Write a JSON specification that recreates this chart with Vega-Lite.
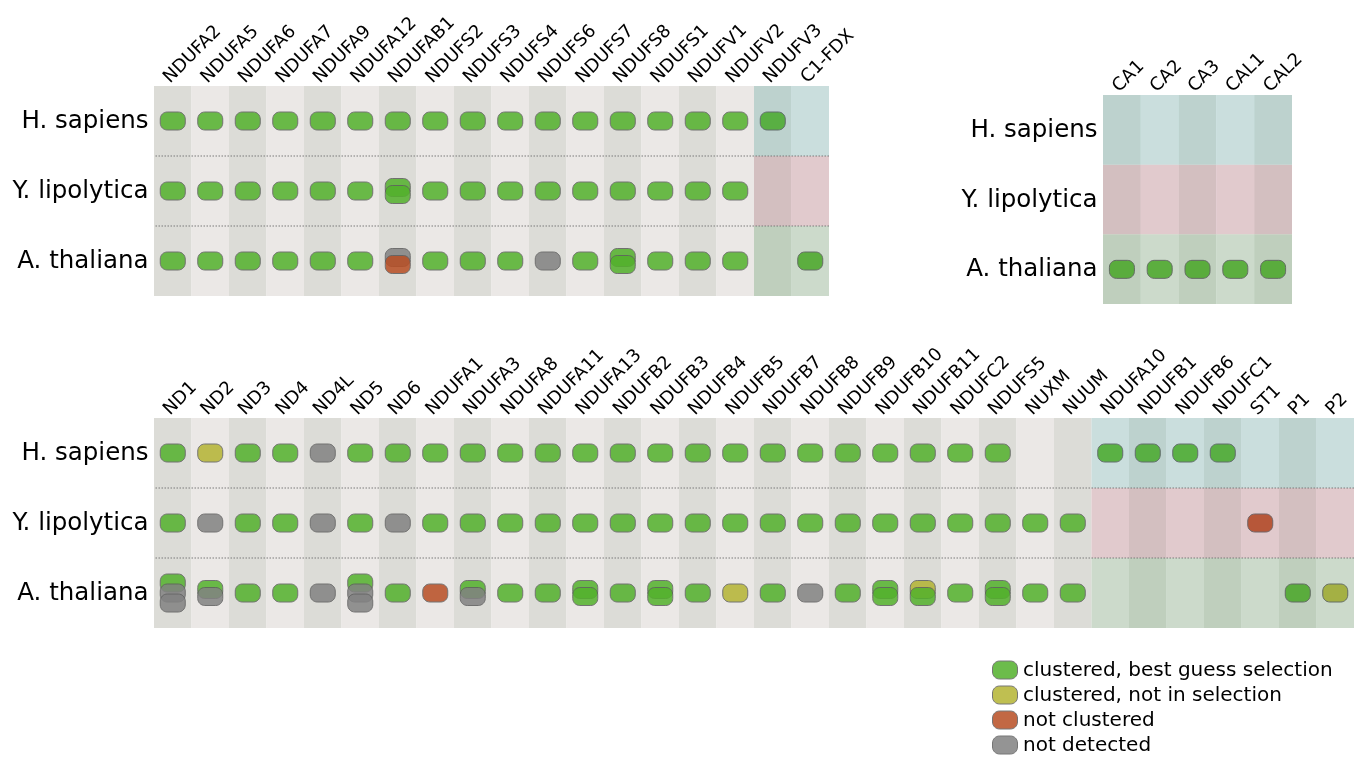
{
  "$schema": "https://vega.github.io/schema/vega-lite/v6.json",
  "padding": {"left": 12, "top": 12, "right": 8, "bottom": 4},
  "background": "white",
  "datasets": {
    "species": [
      {"species": "H. sapiens"}, {"species": "Y. lipolytica"}, {"species": "A. thaliana"}
    ],
    "genes": [
      {"gene": "NDUFA2", "panel": "top", "set": "shared"},
      {"gene": "NDUFA5", "panel": "top", "set": "shared"},
      {"gene": "NDUFA6", "panel": "top", "set": "shared"},
      {"gene": "NDUFA7", "panel": "top", "set": "shared"},
      {"gene": "NDUFA9", "panel": "top", "set": "shared"},
      {"gene": "NDUFA12", "panel": "top", "set": "shared"},
      {"gene": "NDUFAB1", "panel": "top", "set": "shared"},
      {"gene": "NDUFS2", "panel": "top", "set": "shared"},
      {"gene": "NDUFS3", "panel": "top", "set": "shared"},
      {"gene": "NDUFS4", "panel": "top", "set": "shared"},
      {"gene": "NDUFS6", "panel": "top", "set": "shared"},
      {"gene": "NDUFS7", "panel": "top", "set": "shared"},
      {"gene": "NDUFS8", "panel": "top", "set": "shared"},
      {"gene": "NDUFS1", "panel": "top", "set": "shared"},
      {"gene": "NDUFV1", "panel": "top", "set": "shared"},
      {"gene": "NDUFV2", "panel": "top", "set": "shared"},
      {"gene": "NDUFV3", "panel": "top", "set": "specific"},
      {"gene": "C1-FDX", "panel": "top", "set": "specific"},
      {"gene": "CA1", "panel": "ca", "set": "specific"},
      {"gene": "CA2", "panel": "ca", "set": "specific"},
      {"gene": "CA3", "panel": "ca", "set": "specific"},
      {"gene": "CAL1", "panel": "ca", "set": "specific"},
      {"gene": "CAL2", "panel": "ca", "set": "specific"},
      {"gene": "ND1", "panel": "bottom", "set": "shared"},
      {"gene": "ND2", "panel": "bottom", "set": "shared"},
      {"gene": "ND3", "panel": "bottom", "set": "shared"},
      {"gene": "ND4", "panel": "bottom", "set": "shared"},
      {"gene": "ND4L", "panel": "bottom", "set": "shared"},
      {"gene": "ND5", "panel": "bottom", "set": "shared"},
      {"gene": "ND6", "panel": "bottom", "set": "shared"},
      {"gene": "NDUFA1", "panel": "bottom", "set": "shared"},
      {"gene": "NDUFA3", "panel": "bottom", "set": "shared"},
      {"gene": "NDUFA8", "panel": "bottom", "set": "shared"},
      {"gene": "NDUFA11", "panel": "bottom", "set": "shared"},
      {"gene": "NDUFA13", "panel": "bottom", "set": "shared"},
      {"gene": "NDUFB2", "panel": "bottom", "set": "shared"},
      {"gene": "NDUFB3", "panel": "bottom", "set": "shared"},
      {"gene": "NDUFB4", "panel": "bottom", "set": "shared"},
      {"gene": "NDUFB5", "panel": "bottom", "set": "shared"},
      {"gene": "NDUFB7", "panel": "bottom", "set": "shared"},
      {"gene": "NDUFB8", "panel": "bottom", "set": "shared"},
      {"gene": "NDUFB9", "panel": "bottom", "set": "shared"},
      {"gene": "NDUFB10", "panel": "bottom", "set": "shared"},
      {"gene": "NDUFB11", "panel": "bottom", "set": "shared"},
      {"gene": "NDUFC2", "panel": "bottom", "set": "shared"},
      {"gene": "NDUFS5", "panel": "bottom", "set": "shared"},
      {"gene": "NUXM", "panel": "bottom", "set": "shared"},
      {"gene": "NUUM", "panel": "bottom", "set": "shared"},
      {"gene": "NDUFA10", "panel": "bottom", "set": "specific"},
      {"gene": "NDUFB1", "panel": "bottom", "set": "specific"},
      {"gene": "NDUFB6", "panel": "bottom", "set": "specific"},
      {"gene": "NDUFC1", "panel": "bottom", "set": "specific"},
      {"gene": "ST1", "panel": "bottom", "set": "specific"},
      {"gene": "P1", "panel": "bottom", "set": "specific"},
      {"gene": "P2", "panel": "bottom", "set": "specific"}
    ],
    "hitsTop": [
      {"gene": "NDUFA2", "species": "H. sapiens", "status": "best"},
      {"gene": "NDUFA5", "species": "H. sapiens", "status": "best"},
      {"gene": "NDUFA6", "species": "H. sapiens", "status": "best"},
      {"gene": "NDUFA7", "species": "H. sapiens", "status": "best"},
      {"gene": "NDUFA9", "species": "H. sapiens", "status": "best"},
      {"gene": "NDUFA12", "species": "H. sapiens", "status": "best"},
      {"gene": "NDUFAB1", "species": "H. sapiens", "status": "best"},
      {"gene": "NDUFS2", "species": "H. sapiens", "status": "best"},
      {"gene": "NDUFS3", "species": "H. sapiens", "status": "best"},
      {"gene": "NDUFS4", "species": "H. sapiens", "status": "best"},
      {"gene": "NDUFS6", "species": "H. sapiens", "status": "best"},
      {"gene": "NDUFS7", "species": "H. sapiens", "status": "best"},
      {"gene": "NDUFS8", "species": "H. sapiens", "status": "best"},
      {"gene": "NDUFS1", "species": "H. sapiens", "status": "best"},
      {"gene": "NDUFV1", "species": "H. sapiens", "status": "best"},
      {"gene": "NDUFV2", "species": "H. sapiens", "status": "best"},
      {"gene": "NDUFV3", "species": "H. sapiens", "status": "best"},
      {"gene": "NDUFA2", "species": "Y. lipolytica", "status": "best"},
      {"gene": "NDUFA5", "species": "Y. lipolytica", "status": "best"},
      {"gene": "NDUFA6", "species": "Y. lipolytica", "status": "best"},
      {"gene": "NDUFA7", "species": "Y. lipolytica", "status": "best"},
      {"gene": "NDUFA9", "species": "Y. lipolytica", "status": "best"},
      {"gene": "NDUFA12", "species": "Y. lipolytica", "status": "best"},
      {"gene": "NDUFAB1", "species": "Y. lipolytica", "status": "best"},
      {"gene": "NDUFAB1", "species": "Y. lipolytica", "status": "best"},
      {"gene": "NDUFS2", "species": "Y. lipolytica", "status": "best"},
      {"gene": "NDUFS3", "species": "Y. lipolytica", "status": "best"},
      {"gene": "NDUFS4", "species": "Y. lipolytica", "status": "best"},
      {"gene": "NDUFS6", "species": "Y. lipolytica", "status": "best"},
      {"gene": "NDUFS7", "species": "Y. lipolytica", "status": "best"},
      {"gene": "NDUFS8", "species": "Y. lipolytica", "status": "best"},
      {"gene": "NDUFS1", "species": "Y. lipolytica", "status": "best"},
      {"gene": "NDUFV1", "species": "Y. lipolytica", "status": "best"},
      {"gene": "NDUFV2", "species": "Y. lipolytica", "status": "best"},
      {"gene": "NDUFA2", "species": "A. thaliana", "status": "best"},
      {"gene": "NDUFA5", "species": "A. thaliana", "status": "best"},
      {"gene": "NDUFA6", "species": "A. thaliana", "status": "best"},
      {"gene": "NDUFA7", "species": "A. thaliana", "status": "best"},
      {"gene": "NDUFA9", "species": "A. thaliana", "status": "best"},
      {"gene": "NDUFA12", "species": "A. thaliana", "status": "best"},
      {"gene": "NDUFAB1", "species": "A. thaliana", "status": "missing"},
      {"gene": "NDUFAB1", "species": "A. thaliana", "status": "unclustered"},
      {"gene": "NDUFS2", "species": "A. thaliana", "status": "best"},
      {"gene": "NDUFS3", "species": "A. thaliana", "status": "best"},
      {"gene": "NDUFS4", "species": "A. thaliana", "status": "best"},
      {"gene": "NDUFS6", "species": "A. thaliana", "status": "missing"},
      {"gene": "NDUFS7", "species": "A. thaliana", "status": "best"},
      {"gene": "NDUFS8", "species": "A. thaliana", "status": "best"},
      {"gene": "NDUFS8", "species": "A. thaliana", "status": "best"},
      {"gene": "NDUFS1", "species": "A. thaliana", "status": "best"},
      {"gene": "NDUFV1", "species": "A. thaliana", "status": "best"},
      {"gene": "NDUFV2", "species": "A. thaliana", "status": "best"},
      {"gene": "C1-FDX", "species": "A. thaliana", "status": "best"}
    ],
    "hitsCa": [
      {"gene": "CA1", "species": "A. thaliana", "status": "best"},
      {"gene": "CA2", "species": "A. thaliana", "status": "best"},
      {"gene": "CA3", "species": "A. thaliana", "status": "best"},
      {"gene": "CAL1", "species": "A. thaliana", "status": "best"},
      {"gene": "CAL2", "species": "A. thaliana", "status": "best"}
    ],
    "hitsBottom": [
      {"gene": "ND1", "species": "H. sapiens", "status": "best"},
      {"gene": "ND2", "species": "H. sapiens", "status": "alt"},
      {"gene": "ND3", "species": "H. sapiens", "status": "best"},
      {"gene": "ND4", "species": "H. sapiens", "status": "best"},
      {"gene": "ND4L", "species": "H. sapiens", "status": "missing"},
      {"gene": "ND5", "species": "H. sapiens", "status": "best"},
      {"gene": "ND6", "species": "H. sapiens", "status": "best"},
      {"gene": "NDUFA1", "species": "H. sapiens", "status": "best"},
      {"gene": "NDUFA3", "species": "H. sapiens", "status": "best"},
      {"gene": "NDUFA8", "species": "H. sapiens", "status": "best"},
      {"gene": "NDUFA11", "species": "H. sapiens", "status": "best"},
      {"gene": "NDUFA13", "species": "H. sapiens", "status": "best"},
      {"gene": "NDUFB2", "species": "H. sapiens", "status": "best"},
      {"gene": "NDUFB3", "species": "H. sapiens", "status": "best"},
      {"gene": "NDUFB4", "species": "H. sapiens", "status": "best"},
      {"gene": "NDUFB5", "species": "H. sapiens", "status": "best"},
      {"gene": "NDUFB7", "species": "H. sapiens", "status": "best"},
      {"gene": "NDUFB8", "species": "H. sapiens", "status": "best"},
      {"gene": "NDUFB9", "species": "H. sapiens", "status": "best"},
      {"gene": "NDUFB10", "species": "H. sapiens", "status": "best"},
      {"gene": "NDUFB11", "species": "H. sapiens", "status": "best"},
      {"gene": "NDUFC2", "species": "H. sapiens", "status": "best"},
      {"gene": "NDUFS5", "species": "H. sapiens", "status": "best"},
      {"gene": "NDUFA10", "species": "H. sapiens", "status": "best"},
      {"gene": "NDUFB1", "species": "H. sapiens", "status": "best"},
      {"gene": "NDUFB6", "species": "H. sapiens", "status": "best"},
      {"gene": "NDUFC1", "species": "H. sapiens", "status": "best"},
      {"gene": "ND1", "species": "Y. lipolytica", "status": "best"},
      {"gene": "ND2", "species": "Y. lipolytica", "status": "missing"},
      {"gene": "ND3", "species": "Y. lipolytica", "status": "best"},
      {"gene": "ND4", "species": "Y. lipolytica", "status": "best"},
      {"gene": "ND4L", "species": "Y. lipolytica", "status": "missing"},
      {"gene": "ND5", "species": "Y. lipolytica", "status": "best"},
      {"gene": "ND6", "species": "Y. lipolytica", "status": "missing"},
      {"gene": "NDUFA1", "species": "Y. lipolytica", "status": "best"},
      {"gene": "NDUFA3", "species": "Y. lipolytica", "status": "best"},
      {"gene": "NDUFA8", "species": "Y. lipolytica", "status": "best"},
      {"gene": "NDUFA11", "species": "Y. lipolytica", "status": "best"},
      {"gene": "NDUFA13", "species": "Y. lipolytica", "status": "best"},
      {"gene": "NDUFB2", "species": "Y. lipolytica", "status": "best"},
      {"gene": "NDUFB3", "species": "Y. lipolytica", "status": "best"},
      {"gene": "NDUFB4", "species": "Y. lipolytica", "status": "best"},
      {"gene": "NDUFB5", "species": "Y. lipolytica", "status": "best"},
      {"gene": "NDUFB7", "species": "Y. lipolytica", "status": "best"},
      {"gene": "NDUFB8", "species": "Y. lipolytica", "status": "best"},
      {"gene": "NDUFB9", "species": "Y. lipolytica", "status": "best"},
      {"gene": "NDUFB10", "species": "Y. lipolytica", "status": "best"},
      {"gene": "NDUFB11", "species": "Y. lipolytica", "status": "best"},
      {"gene": "NDUFC2", "species": "Y. lipolytica", "status": "best"},
      {"gene": "NDUFS5", "species": "Y. lipolytica", "status": "best"},
      {"gene": "NUXM", "species": "Y. lipolytica", "status": "best"},
      {"gene": "NUUM", "species": "Y. lipolytica", "status": "best"},
      {"gene": "ST1", "species": "Y. lipolytica", "status": "unclustered"},
      {"gene": "ND1", "species": "A. thaliana", "status": "best"},
      {"gene": "ND1", "species": "A. thaliana", "status": "missing"},
      {"gene": "ND1", "species": "A. thaliana", "status": "missing"},
      {"gene": "ND2", "species": "A. thaliana", "status": "best"},
      {"gene": "ND2", "species": "A. thaliana", "status": "missing"},
      {"gene": "ND3", "species": "A. thaliana", "status": "best"},
      {"gene": "ND4", "species": "A. thaliana", "status": "best"},
      {"gene": "ND4L", "species": "A. thaliana", "status": "missing"},
      {"gene": "ND5", "species": "A. thaliana", "status": "best"},
      {"gene": "ND5", "species": "A. thaliana", "status": "missing"},
      {"gene": "ND5", "species": "A. thaliana", "status": "missing"},
      {"gene": "ND6", "species": "A. thaliana", "status": "best"},
      {"gene": "NDUFA1", "species": "A. thaliana", "status": "unclustered"},
      {"gene": "NDUFA3", "species": "A. thaliana", "status": "best"},
      {"gene": "NDUFA3", "species": "A. thaliana", "status": "missing"},
      {"gene": "NDUFA8", "species": "A. thaliana", "status": "best"},
      {"gene": "NDUFA11", "species": "A. thaliana", "status": "best"},
      {"gene": "NDUFA13", "species": "A. thaliana", "status": "best"},
      {"gene": "NDUFA13", "species": "A. thaliana", "status": "best"},
      {"gene": "NDUFB2", "species": "A. thaliana", "status": "best"},
      {"gene": "NDUFB3", "species": "A. thaliana", "status": "best"},
      {"gene": "NDUFB3", "species": "A. thaliana", "status": "best"},
      {"gene": "NDUFB4", "species": "A. thaliana", "status": "best"},
      {"gene": "NDUFB5", "species": "A. thaliana", "status": "alt"},
      {"gene": "NDUFB7", "species": "A. thaliana", "status": "best"},
      {"gene": "NDUFB8", "species": "A. thaliana", "status": "missing"},
      {"gene": "NDUFB9", "species": "A. thaliana", "status": "best"},
      {"gene": "NDUFB10", "species": "A. thaliana", "status": "best"},
      {"gene": "NDUFB10", "species": "A. thaliana", "status": "best"},
      {"gene": "NDUFB11", "species": "A. thaliana", "status": "alt"},
      {"gene": "NDUFB11", "species": "A. thaliana", "status": "best"},
      {"gene": "NDUFC2", "species": "A. thaliana", "status": "best"},
      {"gene": "NDUFS5", "species": "A. thaliana", "status": "best"},
      {"gene": "NDUFS5", "species": "A. thaliana", "status": "best"},
      {"gene": "NUXM", "species": "A. thaliana", "status": "best"},
      {"gene": "NUUM", "species": "A. thaliana", "status": "best"},
      {"gene": "P1", "species": "A. thaliana", "status": "best"},
      {"gene": "P2", "species": "A. thaliana", "status": "alt"}
    ]
  },
  "vconcat": [
    {
      "hconcat": [
        {
          "width": 675,
          "height": 210,
          "resolve": {"scale": {"yOffset": "independent"}},
          "layer": [
            {
              "data": {"name": "genes"},
              "transform": [
                {"filter": "datum.panel === 'top'"},
                {"window": [{"op": "row_number", "as": "col"}]},
                {"calculate": "['H. sapiens', 'Y. lipolytica', 'A. thaliana']", "as": "species"},
                {"flatten": ["species"]},
                {"calculate": "datum.col % 2 === 1 ? 'dark' : 'light'", "as": "tone"}
              ],
              "mark": "rect",
              "encoding": {
                "x": {"field": "gene", "type": "nominal", "sort": null, "title": null, "axis": {"orient": "top"}},
                "y": {"field": "species", "type": "nominal", "title": null, "scale": {"domain": ["H. sapiens", "Y. lipolytica", "A. thaliana"]}},
                "fill": {"field": "tone", "type": "nominal", "legend": null,
                  "scale": {"domain": ["dark", "light", "H. sapiens", "Y. lipolytica", "A. thaliana"], "range": ["#dcdcd7", "#ebe8e6", "#dbf4f5", "#f5dee4", "#def0e1"]}}
              }
            },
            {
              "data": {"name": "hitsTop"},
              "transform": [
                {"window": [{"op": "row_number", "as": "k"}], "groupby": ["gene", "species"]},
                {"joinaggregate": [{"op": "count", "as": "n"}], "groupby": ["gene", "species"]},
                {"calculate": "(datum.k - (datum.n + 1) / 2) * (datum.n > 2 ? 10 : 7)", "as": "shift"}
              ],
              "mark": {"type": "point", "filled": true, "size": 625, "opacity": 0.85, "stroke": "#5e5e5e", "strokeWidth": 1,
                "shape": "M-0.44,-0.72L0.44,-0.72C0.749,-0.72,1,-0.469,1,-0.16L1,0.16C1,0.469,0.749,0.72,0.44,0.72L-0.44,0.72C-0.749,0.72,-1,0.469,-1,0.16L-1,-0.16C-1,-0.469,-0.749,-0.72,-0.44,-0.72Z"},
              "encoding": {
                "x": {"field": "gene", "type": "nominal", "sort": null, "title": null},
                "y": {"field": "species", "type": "nominal", "title": null},
                "yOffset": {"field": "shift", "type": "quantitative", "scale": {"domain": [-10, 10], "range": [25, 45]}},
                "color": {"field": "status", "type": "nominal",
                  "scale": {"domain": ["best", "alt", "unclustered", "missing"], "range": ["#53b12c", "#b4b433", "#b84e24", "#828282"]},
                  "legend": {
                    "orient": "none", "legendX": 838, "legendY": 571, "title": null,
                    "labelFont": "DejaVu Sans", "labelFontSize": 20, "labelColor": "#000", "labelOffset": 5, "labelLimit": 400,
                    "symbolType": "M-0.44,-0.72L0.44,-0.72C0.749,-0.72,1,-0.469,1,-0.16L1,0.16C1,0.469,0.749,0.72,0.44,0.72L-0.44,0.72C-0.749,0.72,-1,0.469,-1,0.16L-1,-0.16C-1,-0.469,-0.749,-0.72,-0.44,-0.72Z",
                    "symbolSize": 625, "symbolStrokeColor": "#5e5e5e", "symbolStrokeWidth": 1, "symbolOpacity": 0.85, "rowPadding": 1,
                    "labelExpr": "{'best': 'clustered, best guess selection', 'alt': 'clustered, not in selection', 'unclustered': 'not clustered', 'missing': 'not detected'}[datum.label]"
                  }
                }
              }
            },
            {
              "data": {"name": "genes"},
              "transform": [
                {"filter": "datum.panel === 'top' && datum.set === 'specific'"},
                {"calculate": "['H. sapiens', 'Y. lipolytica', 'A. thaliana']", "as": "species"},
                {"flatten": ["species"]}
              ],
              "mark": {"type": "rect", "blend": "multiply"},
              "encoding": {
                "x": {"field": "gene", "type": "nominal", "sort": null, "title": null},
                "y": {"field": "species", "type": "nominal", "title": null},
                "fill": {"field": "species", "type": "nominal", "legend": null,
                  "scale": {"domain": ["dark", "light", "H. sapiens", "Y. lipolytica", "A. thaliana"], "range": ["#dcdcd7", "#ebe8e6", "#dbf4f5", "#f5dee4", "#def0e1"]}}
              }
            },
            {
              "data": {"name": "species"},
              "transform": [{"filter": "datum.species !== 'H. sapiens'"}],
              "mark": {"type": "rule", "stroke": "#7a7a7a", "strokeWidth": 1, "strokeDash": [1.5, 1.5]},
              "encoding": {
                "y": {"field": "species", "type": "nominal", "bandPosition": 0, "title": null}
              }
            }
          ]
        },
        {
          "width": 189,
          "height": 218,
          "resolve": {"scale": {"yOffset": "independent"}},
          "layer": [
            {
              "data": {"name": "genes"},
              "transform": [
                {"filter": "datum.panel === 'ca'"},
                {"window": [{"op": "row_number", "as": "col"}]},
                {"calculate": "['H. sapiens', 'Y. lipolytica', 'A. thaliana']", "as": "species"},
                {"flatten": ["species"]},
                {"calculate": "datum.col % 2 === 1 ? 'dark' : 'light'", "as": "tone"}
              ],
              "mark": "rect",
              "encoding": {
                "x": {"field": "gene", "type": "nominal", "sort": null, "title": null, "axis": {"orient": "top", "offset": -9}},
                "y": {"field": "species", "type": "nominal", "title": null, "scale": {"domain": ["H. sapiens", "Y. lipolytica", "A. thaliana"], "range": [9, 218]}},
                "fill": {"field": "tone", "type": "nominal", "legend": null,
                  "scale": {"domain": ["dark", "light", "H. sapiens", "Y. lipolytica", "A. thaliana"], "range": ["#dcdcd7", "#ebe8e6", "#dbf4f5", "#f5dee4", "#def0e1"]}}
              }
            },
            {
              "data": {"name": "hitsCa"},
              "transform": [
                {"window": [{"op": "row_number", "as": "k"}], "groupby": ["gene", "species"]},
                {"joinaggregate": [{"op": "count", "as": "n"}], "groupby": ["gene", "species"]},
                {"calculate": "(datum.k - (datum.n + 1) / 2) * (datum.n > 2 ? 10 : 7)", "as": "shift"}
              ],
              "mark": {"type": "point", "filled": true, "size": 625, "opacity": 0.85, "stroke": "#5e5e5e", "strokeWidth": 1,
                "shape": "M-0.44,-0.72L0.44,-0.72C0.749,-0.72,1,-0.469,1,-0.16L1,0.16C1,0.469,0.749,0.72,0.44,0.72L-0.44,0.72C-0.749,0.72,-1,0.469,-1,0.16L-1,-0.16C-1,-0.469,-0.749,-0.72,-0.44,-0.72Z"},
              "encoding": {
                "x": {"field": "gene", "type": "nominal", "sort": null, "title": null},
                "y": {"field": "species", "type": "nominal", "title": null},
                "yOffset": {"field": "shift", "type": "quantitative", "scale": {"domain": [-10, 10], "range": [25, 45]}},
                "color": {"field": "status", "type": "nominal",
                  "scale": {"domain": ["best", "alt", "unclustered", "missing"], "range": ["#53b12c", "#b4b433", "#b84e24", "#828282"]}}
              }
            },
            {
              "data": {"name": "genes"},
              "transform": [
                {"filter": "datum.panel === 'ca' && datum.set === 'specific'"},
                {"calculate": "['H. sapiens', 'Y. lipolytica', 'A. thaliana']", "as": "species"},
                {"flatten": ["species"]}
              ],
              "mark": {"type": "rect", "blend": "multiply"},
              "encoding": {
                "x": {"field": "gene", "type": "nominal", "sort": null, "title": null},
                "y": {"field": "species", "type": "nominal", "title": null},
                "fill": {"field": "species", "type": "nominal", "legend": null,
                  "scale": {"domain": ["dark", "light", "H. sapiens", "Y. lipolytica", "A. thaliana"], "range": ["#dcdcd7", "#ebe8e6", "#dbf4f5", "#f5dee4", "#def0e1"]}}
              }
            }
          ]
        }
      ],
      "spacing": 274,
      "bounds": "flush",
      "resolve": {"scale": {"x": "independent", "y": "independent"}}
    },
    {
      "width": 1200,
      "height": 210,
      "resolve": {"scale": {"yOffset": "independent"}},
      "layer": [
        {
          "data": {"name": "genes"},
          "transform": [
            {"filter": "datum.panel === 'bottom'"},
            {"window": [{"op": "row_number", "as": "col"}]},
            {"calculate": "['H. sapiens', 'Y. lipolytica', 'A. thaliana']", "as": "species"},
            {"flatten": ["species"]},
            {"calculate": "datum.col % 2 === 1 ? 'dark' : 'light'", "as": "tone"}
          ],
          "mark": "rect",
          "encoding": {
            "x": {"field": "gene", "type": "nominal", "sort": null, "title": null, "axis": {"orient": "top"}},
            "y": {"field": "species", "type": "nominal", "title": null, "scale": {"domain": ["H. sapiens", "Y. lipolytica", "A. thaliana"]}},
            "fill": {"field": "tone", "type": "nominal", "legend": null,
              "scale": {"domain": ["dark", "light", "H. sapiens", "Y. lipolytica", "A. thaliana"], "range": ["#dcdcd7", "#ebe8e6", "#dbf4f5", "#f5dee4", "#def0e1"]}}
          }
        },
        {
          "data": {"name": "hitsBottom"},
          "transform": [
            {"window": [{"op": "row_number", "as": "k"}], "groupby": ["gene", "species"]},
            {"joinaggregate": [{"op": "count", "as": "n"}], "groupby": ["gene", "species"]},
            {"calculate": "(datum.k - (datum.n + 1) / 2) * (datum.n > 2 ? 10 : 7)", "as": "shift"}
          ],
          "mark": {"type": "point", "filled": true, "size": 625, "opacity": 0.85, "stroke": "#5e5e5e", "strokeWidth": 1,
            "shape": "M-0.44,-0.72L0.44,-0.72C0.749,-0.72,1,-0.469,1,-0.16L1,0.16C1,0.469,0.749,0.72,0.44,0.72L-0.44,0.72C-0.749,0.72,-1,0.469,-1,0.16L-1,-0.16C-1,-0.469,-0.749,-0.72,-0.44,-0.72Z"},
          "encoding": {
            "x": {"field": "gene", "type": "nominal", "sort": null, "title": null},
            "y": {"field": "species", "type": "nominal", "title": null},
            "yOffset": {"field": "shift", "type": "quantitative", "scale": {"domain": [-10, 10], "range": [25, 45]}},
            "color": {"field": "status", "type": "nominal",
              "scale": {"domain": ["best", "alt", "unclustered", "missing"], "range": ["#53b12c", "#b4b433", "#b84e24", "#828282"]}}
          }
        },
        {
          "data": {"name": "genes"},
          "transform": [
            {"filter": "datum.panel === 'bottom' && datum.set === 'specific'"},
            {"calculate": "['H. sapiens', 'Y. lipolytica', 'A. thaliana']", "as": "species"},
            {"flatten": ["species"]}
          ],
          "mark": {"type": "rect", "blend": "multiply"},
          "encoding": {
            "x": {"field": "gene", "type": "nominal", "sort": null, "title": null},
            "y": {"field": "species", "type": "nominal", "title": null},
            "fill": {"field": "species", "type": "nominal", "legend": null,
              "scale": {"domain": ["dark", "light", "H. sapiens", "Y. lipolytica", "A. thaliana"], "range": ["#dcdcd7", "#ebe8e6", "#dbf4f5", "#f5dee4", "#def0e1"]}}
          }
        },
        {
          "data": {"name": "species"},
          "transform": [{"filter": "datum.species !== 'H. sapiens'"}],
          "mark": {"type": "rule", "stroke": "#7a7a7a", "strokeWidth": 1, "strokeDash": [1.5, 1.5]},
          "encoding": {
            "y": {"field": "species", "type": "nominal", "bandPosition": 0, "title": null}
          }
        }
      ]
    }
  ],
  "spacing": 40,
  "resolve": {"scale": {"x": "independent", "y": "independent"}},
  "config": {
    "font": "DejaVu Sans",
    "view": {"stroke": null},
    "axis": {"ticks": false, "domain": false, "grid": false, "labelColor": "#000", "labelFont": "DejaVu Sans", "labelOverlap": false},
    "axisX": {"labelAngle": -45, "labelFontSize": 18, "labelPadding": 0},
    "axisY": {"labelFontSize": 24.5, "labelPadding": 6},
    "scale": {"bandPaddingInner": 0, "bandPaddingOuter": 0, "rectBandPaddingInner": 0}
  }
}
